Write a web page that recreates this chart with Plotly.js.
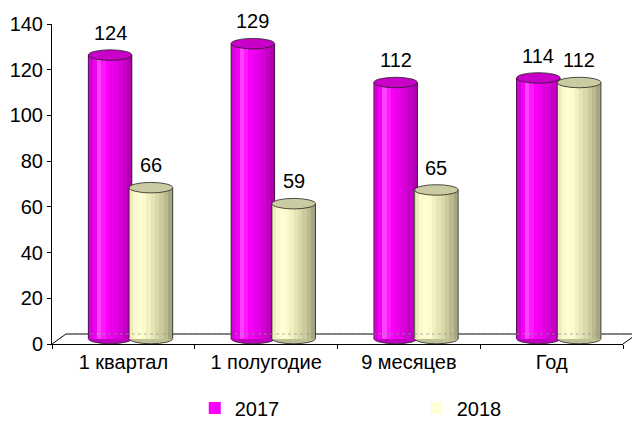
<!DOCTYPE html>
<html>
<head>
<meta charset="utf-8">
<script src="https://cdn.plot.ly/plotly-3.0.1.min.js"></script>
<style>html,body{margin:0;padding:0;background:#fff;}#chart{width:632px;height:439px;}</style>
</head>
<body>
<div id="chart"></div>
<script>
// ---- data ----
var categories = ["1 квартал", "1 полугодие", "9 месяцев", "Год"];
var seriesNames = ["2017", "2018"];
var values2017 = [124, 129, 112, 114];
var values2018 = [66, 59, 65, 112];
var yTicks = [0, 20, 40, 60, 80, 100, 120, 140];

// ---- styling ----
var FONT = "Liberation Sans, Arial, sans-serif";
var FS = 20;
var BASE = 2.4;          // 3D floor depth offset (data units)
var HALF_E = 2.3;        // half height of ellipse caps (data units)
var W = 0.305;           // cylinder width (category units)
var N = 10;              // shading strips per cylinder
var series = [
  {name: seriesNames[0], vals: values2017, off: -0.093,
   strips: ['#d800d8','#f000f0','#ff40ff','#ff18ff','#f800f8','#ec00ec','#e000e0','#d400d4','#c400c4','#b000b0'],
   top: '#c800c8', bottom: '#c000c0', legendStrip: 4},
  {name: seriesNames[1], vals: values2018, off: 0.193,
   strips: ['#eeeebc','#fafacc','#ffffd6','#fbfbcc','#f0f0c0','#e4e4b4','#d8d8a8','#caca9c','#baba8e','#a6a680'],
   top: '#cbcba3', bottom: '#c0c096', legendStrip: 2}
];
var idx = categories.map(function(_, i){ return i; });

var traces = [];
var shapes = [];
series.forEach(function(s, si){
  for (var k = 0; k < N; k++) {
    var dx = s.off - W/2 + (k + 0.5) * W / N;
    traces.push({
      type: 'bar',
      x: idx.map(function(i){ return i + dx; }),
      y: s.vals,
      base: s.vals.map(function(){ return BASE; }),
      width: W / N * 1.08,
      marker: {color: s.strips[k], line: {width: 0}},
      name: s.name,
      legendgroup: s.name,
      showlegend: k === s.legendStrip,
      hoverinfo: 'skip'
    });
  }
  s.vals.forEach(function(v, i){
    var cx = i + s.off;
    shapes.push({type: 'circle', layer: 'below', xref: 'x', yref: 'y',
      x0: cx - W/2, x1: cx + W/2, y0: BASE - HALF_E, y1: BASE + HALF_E,
      fillcolor: s.bottom, line: {color: '#222', width: 0.8}});
  });
});

// side edges
series.forEach(function(s, si){
  s.vals.forEach(function(v, i){
    var cx = i + s.off;
    var rightY0 = BASE;
    if (si === 0) { rightY0 = BASE + values2018[i]; }
    shapes.push({type: 'line', xref: 'x', yref: 'y', x0: cx - W/2, x1: cx - W/2,
      y0: BASE, y1: BASE + v, line: {color: '#222', width: 0.8}});
    if (rightY0 < BASE + v) {
      shapes.push({type: 'line', xref: 'x', yref: 'y', x0: cx + W/2, x1: cx + W/2,
        y0: rightY0, y1: BASE + v, line: {color: '#222', width: 0.8}});
    }
  });
});
// top caps
series.forEach(function(s){
  s.vals.forEach(function(v, i){
    var cx = i + s.off;
    shapes.push({type: 'circle', xref: 'x', yref: 'y',
      x0: cx - W/2, x1: cx + W/2, y0: BASE + v - HALF_E, y1: BASE + v + HALF_E,
      fillcolor: s.top, line: {color: '#222', width: 0.8}});
  });
});

// floor (3D base plane)
var backY = 0.03125, backX0 = 0.0245, backX1 = 1.02;
shapes.push({type: 'line', layer: 'below', xref: 'paper', yref: 'paper', x0: backX0, x1: backX1, y0: backY, y1: backY, line: {color: '#000', width: 1}});
shapes.push({type: 'line', layer: 'below', xref: 'paper', yref: 'paper', x0: 0, x1: backX0, y0: 0, y1: backY, line: {color: '#000', width: 1}});
shapes.push({type: 'line', layer: 'below', xref: 'paper', yref: 'paper', x0: 1, x1: 1.0245, y0: 0, y1: backY, line: {color: '#000', width: 1}});
shapes.push({type: 'line', layer: 'above', xref: 'paper', yref: 'paper', x0: backX0, x1: 1, y0: backY, y1: backY, line: {color: 'rgba(150,150,150,0.7)', width: 1, dash: 'dot'}});

// value labels
var annotations = [];
series.forEach(function(s){
  s.vals.forEach(function(v, i){
    annotations.push({x: i + s.off, y: BASE + v + HALF_E, xref: 'x', yref: 'y',
      text: String(v), showarrow: false, yanchor: 'bottom', xanchor: 'center', yshift: 4,
      font: {family: FONT, size: FS, color: '#000'}});
  });
});

var layout = {
  width: 632, height: 439,
  margin: {l: 52, r: 9, t: 24, b: 95, autoexpand: false},
  paper_bgcolor: '#fff', plot_bgcolor: 'rgba(0,0,0,0)',
  font: {family: FONT, size: FS, color: '#000'},
  barmode: 'overlay',
  bargap: 0,
  xaxis: {
    range: [-0.5, 3.5], fixedrange: true,
    tickmode: 'array', tickvals: idx, ticktext: categories,
    ticks: '', showgrid: false, zeroline: false,
    showline: true, linecolor: '#000', linewidth: 1,
    tickfont: {family: FONT, size: FS, color: '#000'},
    minor: {tickmode: 'array', tickvals: [-0.5, 0.5, 1.5, 2.5, 3.5], ticks: 'outside', ticklen: 4, tickcolor: '#000', showgrid: false}
  },
  yaxis: {
    range: [0, 140], fixedrange: true,
    tickmode: 'array', tickvals: yTicks,
    ticks: 'outside', ticklen: 4, tickcolor: '#000',
    showgrid: false, zeroline: false,
    showline: true, linecolor: '#000', linewidth: 1,
    tickfont: {family: FONT, size: FS, color: '#000'}
  },
  showlegend: true,
  legend: {
    orientation: 'h', x: 0.25, xanchor: 'left', y: -0.2, yanchor: 'middle',
    entrywidth: 177, entrywidthmode: 'pixels',
    itemwidth: 30,
    font: {family: FONT, size: FS, color: '#000'},
    bgcolor: 'rgba(0,0,0,0)'
  },
  shapes: shapes,
  annotations: annotations
};

Plotly.newPlot('chart', traces, layout, {displayModeBar: false, staticPlot: true});
</script>
</body>
</html>
